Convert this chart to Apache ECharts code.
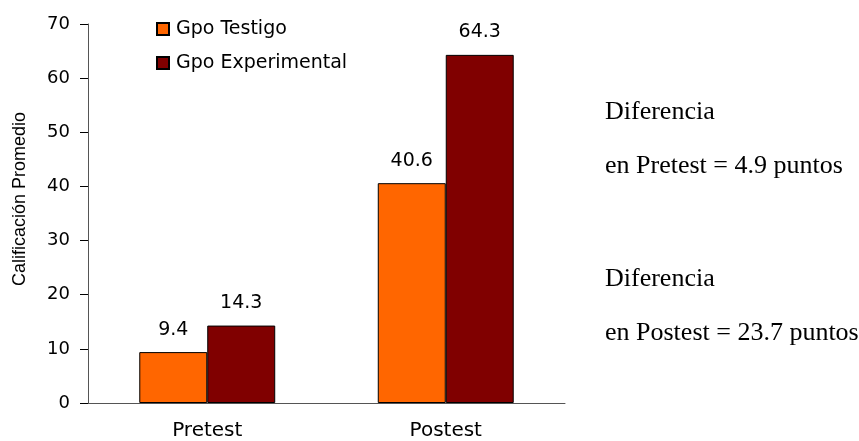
<!DOCTYPE html>
<html>
<head>
<meta charset="utf-8">
<script src="https://cdn.jsdelivr.net/npm/echarts@6/dist/echarts.min.js"></script>
<style>
html,body{margin:0;padding:0;background:#fff;}
#chart{width:859px;height:441px;}
</style>
</head>
<body>
<div id="chart"></div>
<script>
const categories = ['Pretest', 'Postest'];
const testigo = [9.4, 40.6];
const experimental = [14.3, 64.3];
const seriesNames = ['Gpo Testigo', 'Gpo Experimental'];
const yTicks = { min: 0, max: 70, interval: 10 };
const yAxisTitle = 'Calificación Promedio';

const diffPre = (experimental[0] - testigo[0]).toFixed(1);
const diffPost = (experimental[1] - testigo[1]).toFixed(1);

const chart = echarts.init(document.getElementById('chart'));
const sansFont = 'DejaVu Sans';
const serifStyle = { fontFamily: 'Liberation Serif', fontSize: 26, fill: '#000' };

chart.setOption({
  animation: false,
  backgroundColor: '#fff',
  grid: { left: 88, right: 294, top: 24, bottom: 38 },
  legend: {
    orient: 'vertical',
    left: 156,
    top: 19,
    padding: 0,
    itemWidth: 12,
    itemHeight: 12,
    itemGap: 14,
    icon: 'rect',
    textStyle: { fontFamily: sansFont, fontSize: 19, lineHeight: 20, color: '#000', padding: [0, 0, 0, 2] },
    data: seriesNames
  },
  xAxis: {
    type: 'category',
    data: categories,
    axisLine: { lineStyle: { color: '#555', width: 1 } },
    axisTick: { alignWithLabel: false, length: 7, lineStyle: { color: '#000' } },
    axisLabel: { fontFamily: sansFont, fontSize: 20, color: '#000', margin: 18 }
  },
  yAxis: {
    type: 'value',
    min: yTicks.min,
    max: yTicks.max,
    interval: yTicks.interval,
    axisLine: { show: true, lineStyle: { color: '#555', width: 1 } },
    axisTick: { show: true, length: 8, lineStyle: { color: '#000' } },
    splitLine: { show: false },
    axisLabel: { fontFamily: sansFont, fontSize: 18, color: '#000', margin: 18 }
  },
  series: [
    {
      name: seriesNames[0],
      type: 'bar',
      data: testigo,
      barGap: '0%',
      barCategoryGap: '43%',
      itemStyle: { color: '#FF6600', borderColor: '#000', borderWidth: 1 },
      label: { show: true, position: 'top', distance: 13, fontFamily: sansFont, fontSize: 19, color: '#000' }
    },
    {
      name: seriesNames[1],
      type: 'bar',
      data: experimental,
      barGap: '0%',
      barCategoryGap: '43%',
      itemStyle: { color: '#800000', borderColor: '#000', borderWidth: 1 },
      label: { show: true, position: 'top', distance: 13, fontFamily: sansFont, fontSize: 19, color: '#000' }
    }
  ],
  graphic: [
    { type: 'text', x: 20, y: 199, rotation: Math.PI / 2,
      style: { text: yAxisTitle, fontFamily: 'Liberation Sans', fontSize: 18, fill: '#000', align: 'center', verticalAlign: 'middle' } },
    { type: 'text', left: 605, top: 99, style: Object.assign({ text: 'Diferencia' }, serifStyle) },
    { type: 'text', left: 605, top: 153, style: Object.assign({ text: 'en Pretest = ' + diffPre + ' puntos' }, serifStyle) },
    { type: 'text', left: 605, top: 266, style: Object.assign({ text: 'Diferencia' }, serifStyle) },
    { type: 'text', left: 605, top: 320, style: Object.assign({ text: 'en Postest = ' + diffPost + ' puntos' }, serifStyle) }
  ]
});
</script>
</body>
</html>
